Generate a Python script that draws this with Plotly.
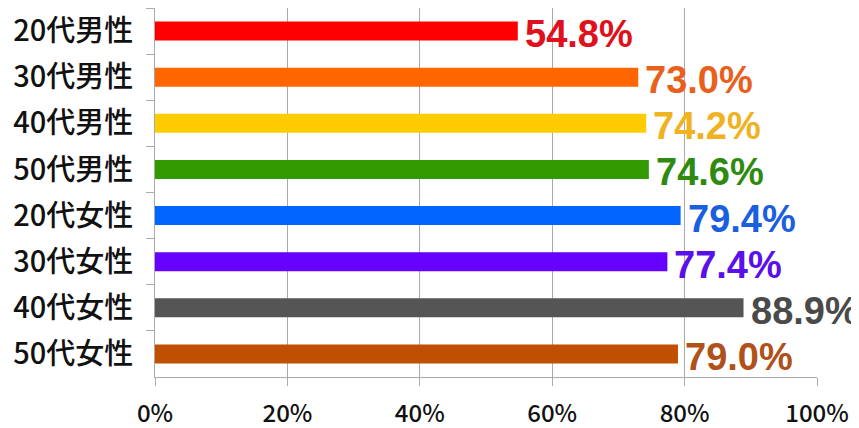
import plotly.graph_objects as go

categories = ["20代男性", "30代男性", "40代男性", "50代男性", "20代女性", "30代女性", "40代女性", "50代女性"]
values = [54.8, 73.0, 74.2, 74.6, 79.4, 77.4, 88.9, 79.0]
bar_colors = ["#FF0000", "#FF6600", "#FFCC00", "#339900", "#0066FF", "#6600FF", "#555555", "#C05000"]
label_colors = ["#E0101C", "#E8601C", "#F0B21E", "#2E8B10", "#1A5FE0", "#5A10E8", "#4A4A4A", "#B0501A"]
tick_vals = [0, 20, 40, 60, 80, 100]
tick_text = ["0%", "20%", "40%", "60%", "80%", "100%"]

fig = go.Figure()
fig.add_trace(go.Bar(
    x=values, y=categories, orientation="h",
    marker=dict(color=bar_colors, line=dict(width=0)),
    width=0.41, hoverinfo="skip",
))

for c, v, col in zip(categories, values, label_colors):
    fig.add_annotation(
        x=v, y=c, text=f"{v:.1f}%", showarrow=False,
        xanchor="left", yanchor="middle", xshift=5, yshift=-3,
        font=dict(family="Liberation Sans, Arial, sans-serif", size=38, color=col, weight="bold"),
    )

# page has an 8px body margin, so the figure is sized to fit the window
fig.update_layout(
    width=851, height=420,
    margin=dict(l=147, r=42, t=0, b=51, autoexpand=False),
    paper_bgcolor="white", plot_bgcolor="white",
    showlegend=False,
    bargap=0.59,
)
fig.update_xaxes(
    range=[0, 100], tickvals=tick_vals, ticktext=tick_text,
    showgrid=True, gridcolor="#AAAAAA", gridwidth=1,
    showline=True, linecolor="#AAAAAA", linewidth=1,
    ticks="outside", ticklen=8, tickcolor="#AAAAAA",
    tickfont=dict(family="Noto Sans CJK JP, sans-serif", size=24, color="#111111", weight=500),
    ticklabelstandoff=7,
    zeroline=False, fixedrange=True, automargin=False,
)
fig.update_yaxes(
    categoryorder="array", categoryarray=categories,
    range=[7.5, -0.5],
    showline=True, linecolor="#AAAAAA", linewidth=1,
    ticks="outside", ticklen=8, tickcolor="#AAAAAA", tickson="boundaries",
    showgrid=False,
    tickfont=dict(family="Noto Sans CJK JP, sans-serif", size=29, color="#111111", weight=500),
    ticklabelstandoff=15,
    fixedrange=True, automargin=False,
)

fig.write_html("out.html")
